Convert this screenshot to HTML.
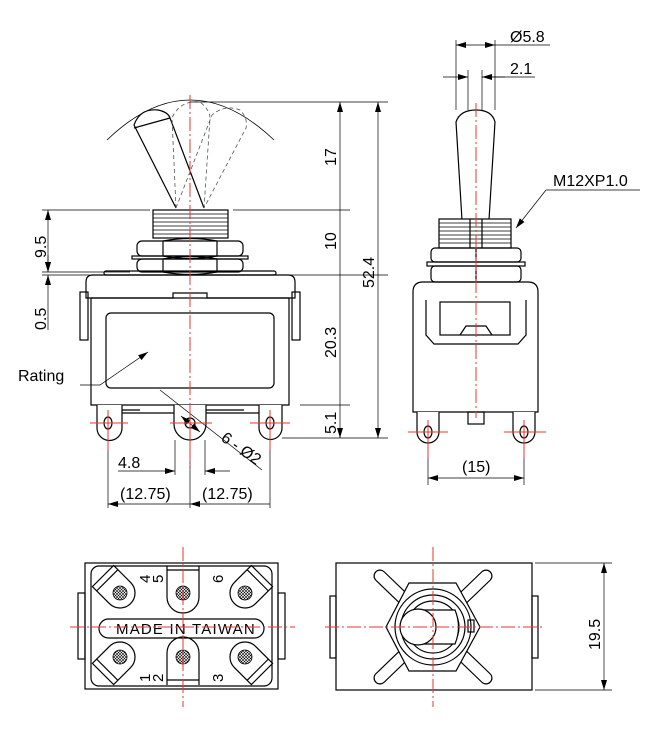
<!DOCTYPE html>
<html><head><meta charset="utf-8"><style>html,body{margin:0;padding:0;background:#fff}svg{display:block}</style></head>
<body>
<svg width="660" height="737" viewBox="0 0 660 737" xmlns="http://www.w3.org/2000/svg" font-family="Liberation Sans, sans-serif">
<defs>
<marker id="a" viewBox="0 0 10 6" refX="10" refY="3" markerWidth="10" markerHeight="6" orient="auto-start-reverse" markerUnits="userSpaceOnUse"><path d="M0,0L10,3L0,6z" fill="#000"/></marker>
<pattern id="h" width="3" height="3" patternUnits="userSpaceOnUse"><path d="M0,0L3,3M3,0L0,3" stroke="#000" stroke-width="0.6"/></pattern>
</defs>
<g fill="none" stroke="#000" stroke-width="1.2">
<path d="M107,140 Q190,60 274,140" stroke-width="0.8"/>
<path d="M176,208 L134,125 Q140,108 158,110 Q168,112 170,118 L204,208"/>
<path d="M134,128 L170,118" />
<g stroke-dasharray="4,3" stroke-width="0.8" stroke="#555">
<path d="M176,208 L172,118 Q180,100 200,102 Q210,110 210,118 L204,208"/>
<path d="M176,208 L212,115 Q225,104 240,110 Q248,118 246,128 L204,208"/>
</g>
<rect x="153" y="210" width="75" height="28" fill="#fff"/>
<g stroke-width="0.8"><path d="M153,214H228M153,218H228M153,222H228M153,226H228M153,230H228M153,234H228"/></g>
<rect x="137" y="241" width="106" height="15" rx="5"/>
<path d="M163,241Q190,236 217,241M163,256Q190,261 217,256M163,241V256M217,241V256"/>
<rect x="132" y="256" width="116" height="3"/>
<rect x="137" y="259" width="106" height="13" rx="5"/>
<path d="M163,259Q190,254 217,259M163,272Q190,277 217,272M163,259V272M217,259V272"/>
<rect x="104" y="271" width="172" height="4" rx="2"/>
<path d="M86,298V282Q86,275 93,275H288Q295,275 295,282V298Z"/>
<path d="M91,298V405H289V298"/>
<path d="M91,298H173V293H207V298H289"/>
<rect x="80" y="292" width="8" height="48"/><rect x="292" y="292" width="8" height="48"/>
<rect x="106" y="313" width="168" height="75" rx="5"/>
<g fill="#fff">
<path d="M97,405V428A12.5,12.5 0 0 0 122,428V405"/>
<path d="M174,405V424A16,16 0 0 0 206,424V405"/>
<path d="M259,405V428A11.5,11.5 0 0 0 282,428V405"/>
</g>
<path d="M122,410H140M122,413H174M206,410H244M206,413H259"/>
<ellipse cx="108" cy="423" rx="4" ry="6"/><circle cx="190" cy="423" r="5"/><ellipse cx="270" cy="423" rx="4" ry="6"/>
<path d="M462,220L456,122Q460,110 476,110Q492,110 495,122L489,220" />
<rect x="439" y="219" width="72" height="29" fill="#fff"/>
<g stroke-width="0.8"><path d="M439,223H511M439,227H511M439,231H511M439,235H511M439,239H511M439,243H511"/></g>
<path d="M470,219V248M482,219V248"/>
<rect x="431" y="248" width="90" height="14" rx="4"/><path d="M476,248V262"/>
<rect x="427" y="262" width="98" height="4"/>
<rect x="431" y="266" width="90" height="16" rx="4"/><path d="M476,266V282"/>
<path d="M413,412V292Q413,282 423,282H528Q538,282 538,292V412Z"/>
<path d="M426,300V335L434,344H518L526,335V300"/>
<rect x="440" y="302" width="70" height="33"/>
<path d="M460,335L466,326H486L492,335"/>
<rect x="468" y="412" width="16" height="12"/>
<g fill="#fff"><path d="M417,412V432A11,11 0 0 0 439,432V412"/><path d="M513,412V432A11,11 0 0 0 535,432V412"/></g>
<ellipse cx="428" cy="432" rx="4" ry="6"/><ellipse cx="524" cy="432" rx="4" ry="6"/>
<rect x="85" y="563" width="193" height="126"/>
<rect x="91" y="566" width="181" height="120" rx="8"/>
<rect x="78" y="593" width="7" height="66"/><rect x="278" y="593" width="7" height="66"/>
<rect x="99" y="619" width="165" height="19" rx="9.5"/>
<path d="M167,566V597A16,16 0 0 0 199,597V566"/><path d="M167,685V653A16,16 0 0 1 199,653V685"/><path d="M167,570H199M167,680H199"/>
<g transform="translate(120,593) rotate(-45)"><path d="M-15,0A15,15 0 0 0 15,0V-24H-15Z"/><path d="M-15,-18H15"/></g>
<g transform="translate(245,593) rotate(45)"><path d="M-15,0A15,15 0 0 0 15,0V-24H-15Z"/><path d="M-15,-18H15"/></g>
<g transform="translate(120,657) rotate(-135)"><path d="M-15,0A15,15 0 0 0 15,0V-24H-15Z"/><path d="M-15,-18H15"/></g>
<g transform="translate(245,657) rotate(135)"><path d="M-15,0A15,15 0 0 0 15,0V-24H-15Z"/><path d="M-15,-18H15"/></g>
<g fill="url(#h)" stroke-width="0.8"><circle cx="120" cy="593" r="7"/><circle cx="183" cy="593" r="7"/><circle cx="245" cy="593" r="7"/><circle cx="120" cy="657" r="7"/><circle cx="183" cy="657" r="7"/><circle cx="245" cy="657" r="7"/></g>
<rect x="336" y="563" width="196" height="127"/>
<rect x="330" y="596" width="6" height="62"/><rect x="532" y="596" width="6" height="62"/>
<g stroke-linecap="round">
<path d="M380,576L486,678M486,576L380,678" stroke="#000" stroke-width="13"/>
<path d="M380,576L486,678M486,576L380,678" stroke="#fff" stroke-width="10.6"/>
</g>
<polygon points="409,583 456,583 480,627 456,671 409,671 386,627" fill="#fff"/>
<circle cx="433" cy="627" r="38"/><circle cx="433" cy="627" r="32"/><circle cx="433" cy="627" r="26"/><circle cx="433" cy="627" r="17"/>
<path d="M418,610H455Q462,627 455,644H418" fill="#fff"/>
<rect x="400" y="609" width="36" height="36" rx="18" fill="#fff"/>
<rect x="468" y="620" width="6" height="12"/>
</g>
<g font-size="16" fill="#000">
<text x="18" y="381">Rating</text>
<text x="118" y="468">4.8</text>
<text x="120" y="499">(12.75)</text><text x="202" y="499">(12.75)</text>
<text transform="translate(220,440) rotate(35)">6 - Ø2</text>
<text transform="translate(46,258) rotate(-90)">9.5</text>
<text transform="translate(46,330) rotate(-90)">0.5</text>
<text transform="translate(336,166) rotate(-90)">17</text>
<text transform="translate(336,250) rotate(-90)">10</text>
<text transform="translate(336,358) rotate(-90)">20.3</text>
<text transform="translate(336,434) rotate(-90)">5.1</text>
<text transform="translate(374,288) rotate(-90)">52.4</text>
<text x="510" y="42">Ø5.8</text><text x="510" y="74">2.1</text>
<text x="553" y="186">M12XP1.0</text>
<text x="462" y="472">(15)</text>
<text transform="translate(600,650) rotate(-90)">19.5</text>
<text x="116" y="634" font-size="15" letter-spacing="1.2">MADE IN TAIWAN</text>
<text transform="translate(150,583) rotate(-90)" font-size="15">4</text>
<text transform="translate(163,583) rotate(-90)" font-size="15">5</text>
<text transform="translate(223,583) rotate(-90)" font-size="15">6</text>
<text transform="translate(150,682) rotate(-90)" font-size="15">1</text>
<text transform="translate(163,682) rotate(-90)" font-size="15">2</text>
<text transform="translate(223,682) rotate(-90)" font-size="15">3</text>
</g>
<g stroke="#000" stroke-width="0.7" fill="none">
<path d="M233,210H350M276,275H388M300,405H350M282,438H388M190,102H388"/>
<path d="M42,210H150M42,272H130M42,275H90"/>
<path d="M340,102V210M340,210V275M340,275V405M340,405V438" marker-start="url(#a)" marker-end="url(#a)"/>
<path d="M378,102V438" marker-start="url(#a)" marker-end="url(#a)"/>
<path d="M48,210V272" marker-start="url(#a)" marker-end="url(#a)"/>
<path d="M48,255V272" marker-end="url(#a)"/><path d="M48,330V275" marker-end="url(#a)"/>
<path d="M108,445V508M175,440V475M190,440V508M205,440V475M270,445V508"/>
<path d="M118,471H175" marker-end="url(#a)"/><path d="M230,471H205" marker-end="url(#a)"/>
<path d="M108,504H190M270,504H190" marker-start="url(#a)" marker-end="url(#a)"/>
<path d="M160,390L262,470" /><path d="M181,416L200,432" marker-start="url(#a)" marker-end="url(#a)"/>
<path d="M80,385H100L148,352" marker-end="url(#a)"/>
<path d="M456,40V110M495,40V110M468,70V110M482,70V110"/>
<path d="M456,45H495" marker-start="url(#a)" marker-end="url(#a)"/><path d="M495,45H550"/>
<path d="M443,77H468" marker-end="url(#a)"/><path d="M505,77H482" marker-end="url(#a)"/><path d="M482,77H535"/>
<path d="M546,190L516,228" marker-end="url(#a)"/><path d="M546,190H640"/>
<path d="M428,445V485M524,445V485"/><path d="M428,478H524" marker-start="url(#a)" marker-end="url(#a)"/>
<path d="M535,563H612M535,690H612"/><path d="M604,563V690" marker-start="url(#a)" marker-end="url(#a)"/>
</g>
<g stroke="#e33" stroke-width="1" fill="none">
<path d="M190,95V470" stroke-dasharray="14,3,2,3"/>
<path d="M476,103V418" stroke-dasharray="14,3,2,3"/>
<path d="M90,423H128M108,410V450M170,423H212M190,405V450M250,423H290M270,410V450M408,432H448M428,420V458M504,432H546M524,420V458"/>
<path d="M183,547V707M70,627H295" stroke-dasharray="14,3,2,3"/>
<path d="M433,547V707M325,627H545" stroke-dasharray="14,3,2,3"/>
</g>
</svg>
</body></html>
